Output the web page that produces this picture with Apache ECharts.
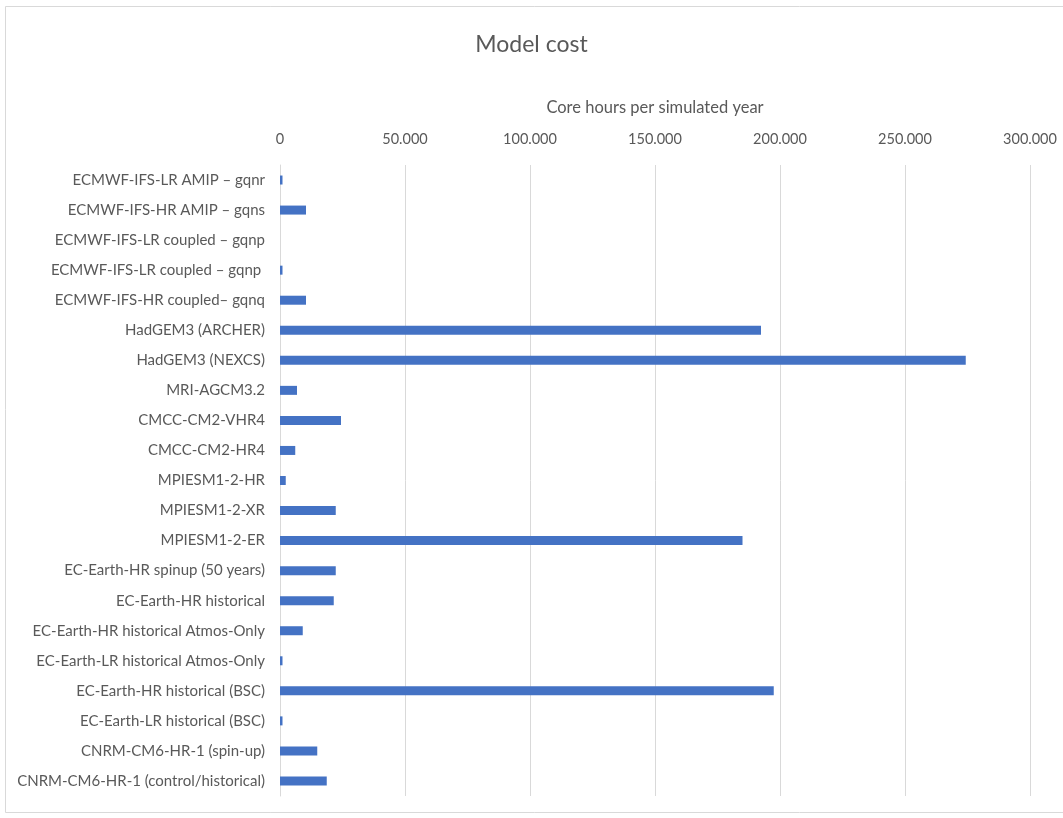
<!DOCTYPE html>
<html><head><meta charset="utf-8">
<script src="https://cdn.jsdelivr.net/npm/echarts@6/dist/echarts.min.js"></script>
<style>html,body{margin:0;padding:0;background:#fff;}#c{width:1063px;height:818px;}</style>
</head><body><div id="c"></div>
<script>
var categories = [
  "ECMWF-IFS-LR AMIP – gqnr",
  "ECMWF-IFS-HR AMIP – gqns",
  "ECMWF-IFS-LR coupled – gqnp",
  "ECMWF-IFS-LR coupled – gqnp ",
  "ECMWF-IFS-HR coupled– gqnq",
  "HadGEM3 (ARCHER)",
  "HadGEM3 (NEXCS)",
  "MRI-AGCM3.2",
  "CMCC-CM2-VHR4",
  "CMCC-CM2-HR4",
  "MPIESM1-2-HR",
  "MPIESM1-2-XR",
  "MPIESM1-2-ER",
  "EC-Earth-HR spinup (50 years)",
  "EC-Earth-HR historical",
  "EC-Earth-HR historical Atmos-Only",
  "EC-Earth-LR historical Atmos-Only",
  "EC-Earth-HR historical (BSC)",
  "EC-Earth-LR historical (BSC)",
  "CNRM-CM6-HR-1 (spin-up)",
  "CNRM-CM6-HR-1 (control/historical)"
];
var coreHours = [1000, 10400, 0, 1000, 10400, 192400, 274300, 6800, 24400, 6100, 2300, 22300, 185000, 22300, 21500, 9100, 1000, 197500, 1000, 14900, 18700];
var xTicks = [0, 50000, 100000, 150000, 200000, 250000, 300000];

function fmt(v){ if (v === 0) return "0"; return String(v).replace(/\B(?=(\d{3})+(?!\d))/g, "."); }

var chart = echarts.init(document.getElementById('c'));
var font = 'Lato, "Open Sans", sans-serif';
chart.setOption({
  animation: false,
  backgroundColor: '#fff',
  textStyle: {fontFamily: font},
  graphic: [{type: 'rect', shape: {x: 5.5, y: 6.5, width: 1070, height: 806}, style: {fill: 'none', stroke: '#d9d9d9', lineWidth: 1}, silent: true}],
  title: {text: 'Model cost', left: 'center', top: 28, textStyle: {fontFamily: font, fontSize: 23, fontWeight: 'normal', color: '#595959'}},
  grid: {left: 280, right: 33, top: 165, bottom: 22, containLabel: false},
  xAxis: {
    type: 'value', position: 'top', min: xTicks[0], max: xTicks[xTicks.length-1], interval: 50000,
    name: 'Core hours per simulated year', nameLocation: 'middle', nameGap: 49,
    nameTextStyle: {fontFamily: font, fontSize: 16.5, color: '#595959'},
    axisLine: {show: false}, axisTick: {show: false},
    axisLabel: {formatter: fmt, fontSize: 14.5, color: '#595959', margin: 18, fontFamily: font},
    splitLine: {show: true, lineStyle: {color: '#d9d9d9', width: 1}}
  },
  yAxis: {
    type: 'category', data: categories, inverse: true,
    axisLine: {show: true, lineStyle: {color: '#d9d9d9'}}, axisTick: {show: false},
    axisLabel: {fontSize: 15, color: '#595959', margin: 15, fontFamily: font}
  },
  series: [{type: 'bar', data: coreHours, barWidth: 9, itemStyle: {color: '#4472c4'}}]
});
</script></body></html>
